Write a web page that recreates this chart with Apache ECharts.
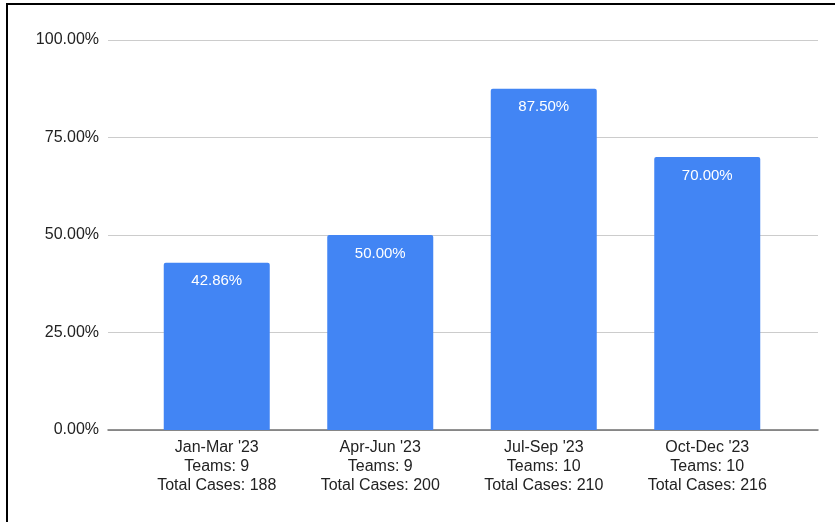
<!DOCTYPE html>
<html>
<head>
<meta charset="utf-8">
<script src="https://cdn.jsdelivr.net/npm/echarts@6/dist/echarts.min.js"></script>
<style>
  html, body { margin: 0; padding: 0; background: #fff; }
  #frame { position: absolute; left: 6px; top: 3px; width: 829px; height: 519px;
           border-left: 2px solid #000; border-top: 2px solid #000; box-sizing: border-box; }
  #chart { position: absolute; left: 0; top: 0; width: 835px; height: 522px; }
</style>
</head>
<body>
<div id="frame"></div>
<div id="chart"></div>
<script>
// quarters and their labels
var quarters = ["Jan-Mar '23", "Apr-Jun '23", "Jul-Sep '23", "Oct-Dec '23"]
var teams = [9, 9, 10, 10]
var totalCases = [188, 200, 210, 216]
// share per quarter (0..1)
var rates = [0.4286, 0.5, 0.875, 0.7]

var categories = quarters.map(function(q, i) {
  return q + '\nTeams: ' + teams[i] + '\nTotal Cases: ' + totalCases[i]
})

var chart = echarts.init(document.getElementById('chart'))
var font = 'Liberation Sans, Arial, sans-serif'

chart.setOption({
  animation: false,
  grid: [
    // wide grid: gridlines + axis line
    { left: 108, right: 17, top: 40, bottom: 92 },
    // narrower grid: bars
    { left: 135, right: 46, top: 40, bottom: 92 }
  ],
  xAxis: [
    {
      gridIndex: 0,
      type: 'value',
      min: 0,
      max: 1,
      axisLine: { show: true, onZero: false, lineStyle: { color: '#6f6f6f', width: 1.5 } },
      axisTick: { show: false },
      axisLabel: { show: false },
      splitLine: { show: false }
    },
    {
      gridIndex: 1,
      type: 'category',
      data: categories,
      axisLine: { show: false },
      axisTick: { show: false },
      axisLabel: {
        color: '#222',
        fontFamily: font,
        fontSize: 16,
        lineHeight: 19,
        margin: 8,
        interval: 0
      }
    }
  ],
  yAxis: [
    {
      gridIndex: 0,
      type: 'value',
      min: 0,
      max: 1,
      interval: 0.25,
      axisLine: { show: false },
      axisTick: { show: false },
      axisLabel: {
        color: '#222',
        fontFamily: font,
        fontSize: 16,
        margin: 9,
        formatter: function(v) { return (v * 100).toFixed(2) + '%' }
      },
      splitLine: { lineStyle: { color: '#cccccc', width: 1 } }
    },
    {
      gridIndex: 1,
      type: 'value',
      min: 0,
      max: 1,
      show: false
    }
  ],
  series: [
    {
      type: 'bar',
      xAxisIndex: 1,
      yAxisIndex: 1,
      data: rates,
      barWidth: 106,
      itemStyle: { color: '#4285f4', borderRadius: [2, 2, 0, 0] },
      label: {
        show: true,
        position: 'insideTop',
        distance: 11,
        color: '#fff',
        fontFamily: font,
        fontSize: 15,
        formatter: function(p) { return (p.value * 100).toFixed(2) + '%' }
      }
    }
  ]
})
</script>
</body>
</html>
